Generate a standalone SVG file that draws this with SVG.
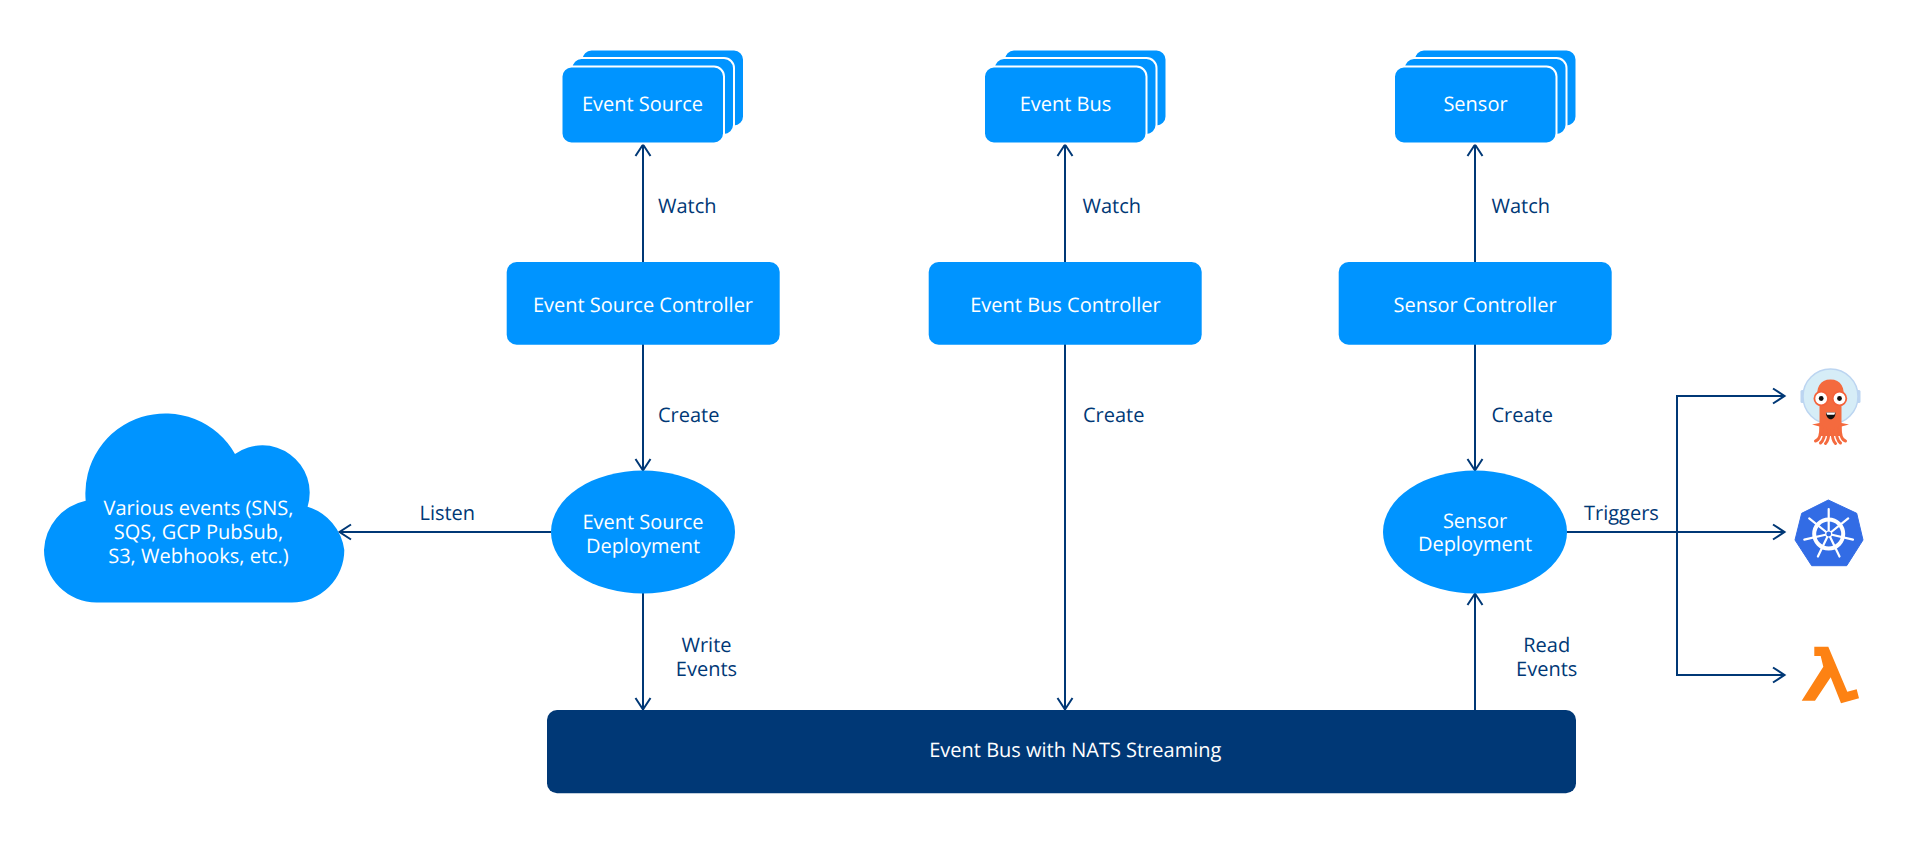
<svg xmlns="http://www.w3.org/2000/svg" width="1920" height="844" viewBox="0 0 1920 844">
<style>
.n{fill:#0094ff}
.s{fill:#0094ff;stroke:#fff;stroke-width:2}
text{font-family:"Open Sans","Noto Sans","Liberation Sans",sans-serif;font-size:20px;text-rendering:geometricPrecision}
.w{fill:#fff;text-anchor:middle}
.l{fill:#003876}
.m{text-anchor:middle}
.c{fill:none;stroke:#003876;stroke-width:2}
.t{fill:none;stroke:#f46a3e;stroke-width:3;stroke-linecap:round}
</style>
<defs>
<marker id="a" markerUnits="userSpaceOnUse" markerWidth="16" markerHeight="20" refX="13.5" refY="10" orient="auto"><path d="M1.5 2.500L13 10L1.500 17.500" fill="none" stroke="#003876" stroke-width="2"/></marker>
</defs>
<rect width="1920" height="844" fill="#fff"/>
<g id="connectors" class="c">
<path d="M643 262V144" marker-end="url(#a)"/>
<path d="M643 344V471" marker-end="url(#a)"/>
<path d="M551 532H339" marker-end="url(#a)"/>
<path d="M643 593V710" marker-end="url(#a)"/>
<path d="M1065 262V144" marker-end="url(#a)"/>
<path d="M1065 344V710" marker-end="url(#a)"/>
<path d="M1475 262V144" marker-end="url(#a)"/>
<path d="M1475 344V471" marker-end="url(#a)"/>
<path d="M1475 710V593" marker-end="url(#a)"/>
<path d="M1567 532H1785" marker-end="url(#a)"/>
<path d="M1677 532V396H1785" marker-end="url(#a)"/>
<path d="M1677 532V675H1785" marker-end="url(#a)"/>
</g>
<g id="labels" class="l">
<text x="658" y="212.500">Watch</text>
<text x="1082.500" y="212.500">Watch</text>
<text x="1491.500" y="212.500">Watch</text>
<text x="658" y="421.700">Create</text>
<text x="1083" y="421.700">Create</text>
<text x="1491.500" y="421.700">Create</text>
<text x="447.300" y="520" class="m">Listen</text>
<text x="1584" y="520">Triggers</text>
<text x="706.500" y="651.500" class="m">Write</text>
<text x="706.500" y="676" class="m">Events</text>
<text x="1546.700" y="651.500" class="m">Read</text>
<text x="1546.700" y="676" class="m">Events</text>
</g>
<g id="event-source">
<rect class="s" x="581.500" y="49.500" width="162.500" height="77" rx="10"/>
<rect class="s" x="571.500" y="58" width="162.500" height="77" rx="10"/>
<rect class="s" x="561.500" y="66.500" width="162.500" height="77" rx="10"/>
<text class="w" x="642.500" y="111">Event Source</text>
</g>
<g id="event-bus">
<rect class="s" x="1004" y="49.500" width="162.500" height="77" rx="10"/>
<rect class="s" x="994" y="58" width="162.500" height="77" rx="10"/>
<rect class="s" x="984" y="66.500" width="162.500" height="77" rx="10"/>
<text class="w" x="1065.500" y="111">Event Bus</text>
</g>
<g id="sensor">
<rect class="s" x="1414" y="49.500" width="162.500" height="77" rx="10"/>
<rect class="s" x="1404" y="58" width="162.500" height="77" rx="10"/>
<rect class="s" x="1394" y="66.500" width="162.500" height="77" rx="10"/>
<text class="w" x="1475.500" y="111">Sensor</text>
</g>
<g id="event-source-controller">
<rect class="n" x="506.700" y="262" width="273" height="82.700" rx="10"/>
<text class="w" x="643" y="311.700">Event Source Controller</text>
</g>
<g id="event-bus-controller">
<rect class="n" x="928.700" y="262" width="273" height="82.700" rx="10"/>
<text class="w" x="1065.500" y="311.700">Event Bus Controller</text>
</g>
<g id="sensor-controller">
<rect class="n" x="1338.700" y="262" width="273" height="82.700" rx="10"/>
<text class="w" x="1475" y="311.700">Sensor Controller</text>
</g>
<g id="event-source-deployment">
<ellipse class="n" cx="643" cy="532" rx="92" ry="61.500"/>
<text class="w" x="643" y="529.200">Event Source</text>
<text class="w" x="643" y="553.200">Deployment</text>
</g>
<g id="sensor-deployment">
<ellipse class="n" cx="1475" cy="532" rx="92" ry="61.500"/>
<text class="w" x="1475" y="527.700">Sensor</text>
<text class="w" x="1475" y="551.200">Deployment</text>
</g>
<g id="various-events">
<path class="n" d="M96.500 602.500A52.500 52.500 0 0 1 44 550A52.500 52.500 0 0 1 85.700 500.700A80 80 0 0 1 235 454A47.400 47.400 0 0 1 307.600 506.700A52.500 52.500 0 0 1 344.300 550A52.500 52.500 0 0 1 291.800 602.500Z"/>
<text class="w" x="198.500" y="515">Various events (SNS,</text>
<text class="w" x="198.500" y="539">SQS, GCP PubSub,</text>
<text class="w" x="198.500" y="562.500">S3, Webhooks, etc.)</text>
</g>
<g id="event-bus-nats">
<rect x="547" y="710" width="1029" height="83.300" rx="10" fill="#003876"/>
<text class="w" x="1075.300" y="757">Event Bus with NATS Streaming</text>
</g>
<g id="argo">
<rect x="1800.500" y="390" width="4" height="13" rx="1.500" fill="#bcd5f1"/>
<rect x="1856.500" y="390" width="4" height="13" rx="1.500" fill="#bcd5f1"/>
<circle cx="1830.500" cy="396.500" r="27.500" fill="#d6edf7" stroke="#bcd5f1" stroke-width="1.500"/>
<path d="M1817.500 402C1815.500 387 1820 379.500 1830.500 379.500C1841 379.500 1845.500 387 1843.500 402L1841.500 406V423L1849 424.500L1841.500 426.500V436H1819.500V426.500L1812 424.500L1819.500 423V406Z" fill="#f46a3e"/>
<path class="t" d="M1821 426C1821 436 1819 440 1815.500 441"/>
<path class="t" d="M1825 428C1825 438 1823 441 1820.500 443"/>
<path class="t" d="M1829 430C1829 438 1827 442 1825.500 443.500"/>
<path class="t" d="M1832 430C1832 438 1834 442 1835.500 443.500"/>
<path class="t" d="M1836 428C1836 438 1838 441 1840.500 443"/>
<path class="t" d="M1840 426C1840 436 1842 440 1845.500 441"/>
<circle cx="1821.200" cy="398.500" r="6.800" fill="#fff" stroke="#f4623a" stroke-width="1.800"/>
<circle cx="1839.500" cy="398.500" r="6.800" fill="#fff" stroke="#f4623a" stroke-width="1.800"/>
<circle cx="1821.200" cy="398.500" r="2.400" fill="#111"/>
<circle cx="1839.500" cy="398.500" r="2.400" fill="#111"/>
<path d="M1826 412.500H1835.500C1835.500 421.500 1826 421.500 1826 412.500Z" fill="#111"/>
<path d="M1826.200 412.500H1835.300L1834.300 414.700H1827.200Z" fill="#fff"/>
</g>
<g id="kubernetes">
<path d="M1828.300 500L1856.700 513.300L1863 540L1846.700 565.700H1811.700L1795 540L1801.700 513.300Z" fill="#326ce5" stroke="#326ce5" stroke-width="1" stroke-linejoin="round"/>
<circle cx="1828.700" cy="534" r="14.500" fill="none" stroke="#fff" stroke-width="4"/>
<g stroke="#fff" stroke-width="2.200" stroke-linecap="round">
<path d="M1828.700 534V509"/>
<path d="M1828.700 534L1848.200 518.400"/>
<path d="M1828.700 534L1853 539.600"/>
<path d="M1828.700 534L1839.500 556.500"/>
<path d="M1828.700 534L1817.900 556.500"/>
<path d="M1828.700 534L1804.300 539.600"/>
<path d="M1828.700 534L1809.200 518.400"/>
</g>
<circle cx="1828.700" cy="534" r="3" fill="#326ce5" stroke="#fff" stroke-width="1.200"/>
</g>
<g id="lambda">
<path d="M1814.300 646.700H1828.300L1847.300 691.700L1856.700 689.300L1859 698.300L1841 703.300L1830.700 677.300L1815 700.700H1801.700L1823.300 666.700L1820.700 656H1814.300Z" fill="#fd8213"/>
</g>
</svg>
